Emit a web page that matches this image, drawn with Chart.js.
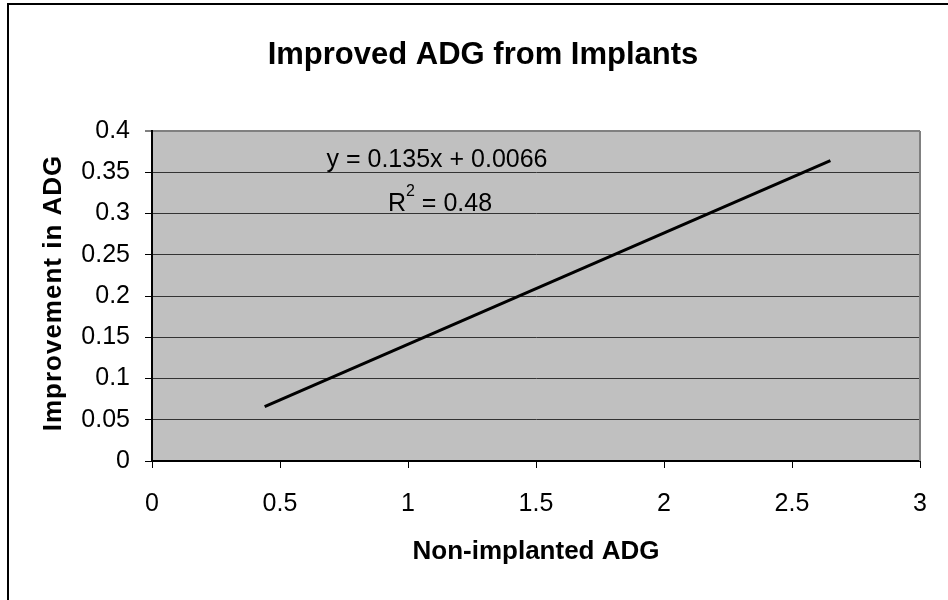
<!DOCTYPE html>
<html>
<head>
<meta charset="utf-8">
<script src="https://cdn.jsdelivr.net/npm/chart.js@4"></script>
<style>
  html, body { margin: 0; padding: 0; background: #fff; }
  #wrap { width: 948px; height: 600px; position: relative; }
</style>
</head>
<body>
<div id="wrap"><canvas id="myChart" width="948" height="600"></canvas></div>
<script>
/* chart data */
var chartTitle = 'Improved ADG from Implants';
var xTitle = 'Non-implanted ADG';
var yTitle = 'Improvement in ADG';
var xValues = [0.44, 2.65];
var yValues = [0.066, 0.364];
var xTickLabels = ['0', '0.5', '1', '1.5', '2', '2.5', '3'];
var yTickLabels = ['0', '0.05', '0.1', '0.15', '0.2', '0.25', '0.3', '0.35', '0.4'];
var equationText = 'y = 0.135x + 0.0066';
var rSquaredText = ' = 0.48';

var FONT = '"Liberation Sans", Arial, sans-serif';

/* excel-ish frame, plot fill and texts */
var excelDecor = {
  id: 'excelDecor',
  beforeDraw: function (chart) {
    var ctx = chart.ctx, a = chart.chartArea;
    ctx.save();
    ctx.fillStyle = '#fff';
    ctx.fillRect(0, 0, chart.width, chart.height);
    // outer frame (only left and top visible)
    ctx.fillStyle = '#000';
    ctx.fillRect(7, 3, 2, chart.height);
    ctx.fillRect(7, 3, chart.width, 2);
    // plot area
    ctx.fillStyle = '#c0c0c0';
    ctx.fillRect(a.left, a.top, a.right - a.left, a.bottom - a.top);
    ctx.restore();
  },
  afterDraw: function (chart) {
    var ctx = chart.ctx, a = chart.chartArea;
    ctx.save();
    // right border of plot
    ctx.strokeStyle = '#808080';
    ctx.lineWidth = 2;
    ctx.beginPath();
    ctx.moveTo(a.right, a.top);
    ctx.lineTo(a.right, a.bottom);
    ctx.stroke();

    ctx.fillStyle = '#000';
    ctx.textAlign = 'center';
    ctx.textBaseline = 'middle';

    ctx.font = 'bold 31px ' + FONT;
    ctx.fillText(chartTitle, 483, 55);

    ctx.font = 'bold 26px ' + FONT;
    ctx.fillText(xTitle, (a.left + a.right) / 2, 552);

    ctx.save();
    ctx.translate(54, 293);
    ctx.rotate(-Math.PI / 2);
    ctx.letterSpacing = '1px';
    ctx.fillText(yTitle, 0, 0);
    ctx.restore();

    // trendline label
    ctx.font = '25px ' + FONT;
    ctx.fillText(equationText, 437, 160);
    ctx.textAlign = 'left';
    var rW = ctx.measureText('R').width;
    ctx.font = '16px ' + FONT;
    var sW = ctx.measureText('2').width;
    ctx.font = '25px ' + FONT;
    var restW = ctx.measureText(rSquaredText).width;
    var x0 = 440 - (rW + sW + restW) / 2;
    ctx.fillText('R', x0, 204);
    ctx.font = '16px ' + FONT;
    ctx.fillText('2', x0 + rW, 192);
    ctx.font = '25px ' + FONT;
    ctx.fillText(rSquaredText, x0 + rW + sW, 204);
    ctx.restore();
  }
};

var ctx = document.getElementById('myChart').getContext('2d');
var chart = new Chart(ctx, {
  type: 'scatter',
  data: {
    datasets: [{
      label: 'Linear (ADG)',
      data: xValues.map(function (x, i) { return { x: x, y: yValues[i] }; }),
      showLine: true,
      borderColor: '#000',
      borderWidth: 3,
      pointRadius: 0,
      fill: false
    }]
  },
  options: {
    responsive: false,
    animation: false,
    layout: { padding: { top: 131, right: 28, left: 0, bottom: 0 } },
    plugins: {
      legend: { display: false },
      title: { display: false },
      tooltip: { enabled: false }
    },
    scales: {
      x: {
        type: 'linear',
        min: 0,
        max: 3,
        afterFit: function (s) { s.height = 139; },
        afterBuildTicks: function (s) {
          s.ticks = xTickLabels.map(function (t) { return { value: parseFloat(t) }; });
        },
        ticks: {
          color: '#000',
          padding: 21,
          maxRotation: 0,
          font: { family: FONT, size: 25 },
          callback: function (v, i) { return xTickLabels[i]; }
        },
        grid: { drawOnChartArea: false, drawTicks: true, tickLength: 7, tickColor: '#000', tickWidth: 1 },
        border: { display: true, color: '#000', width: 2 }
      },
      y: {
        type: 'linear',
        min: 0,
        max: 0.4,
        afterFit: function (s) { s.width = 152; },
        afterBuildTicks: function (s) {
          s.ticks = yTickLabels.map(function (t) { return { value: parseFloat(t) }; });
        },
        ticks: {
          color: '#000',
          padding: 15,
          font: { family: FONT, size: 25 },
          callback: function (v, i) { return yTickLabels[i]; }
        },
        grid: {
          color: function (c) { return c.index === yTickLabels.length - 1 ? '#808080' : '#333'; },
          lineWidth: function (c) { return c.index === yTickLabels.length - 1 ? 2 : 1; },
          drawTicks: true,
          tickLength: 7,
          tickColor: '#000',
          tickWidth: 1
        },
        border: { display: true, color: '#000', width: 2 }
      }
    }
  },
  plugins: [excelDecor]
});
</script>
</body>
</html>
